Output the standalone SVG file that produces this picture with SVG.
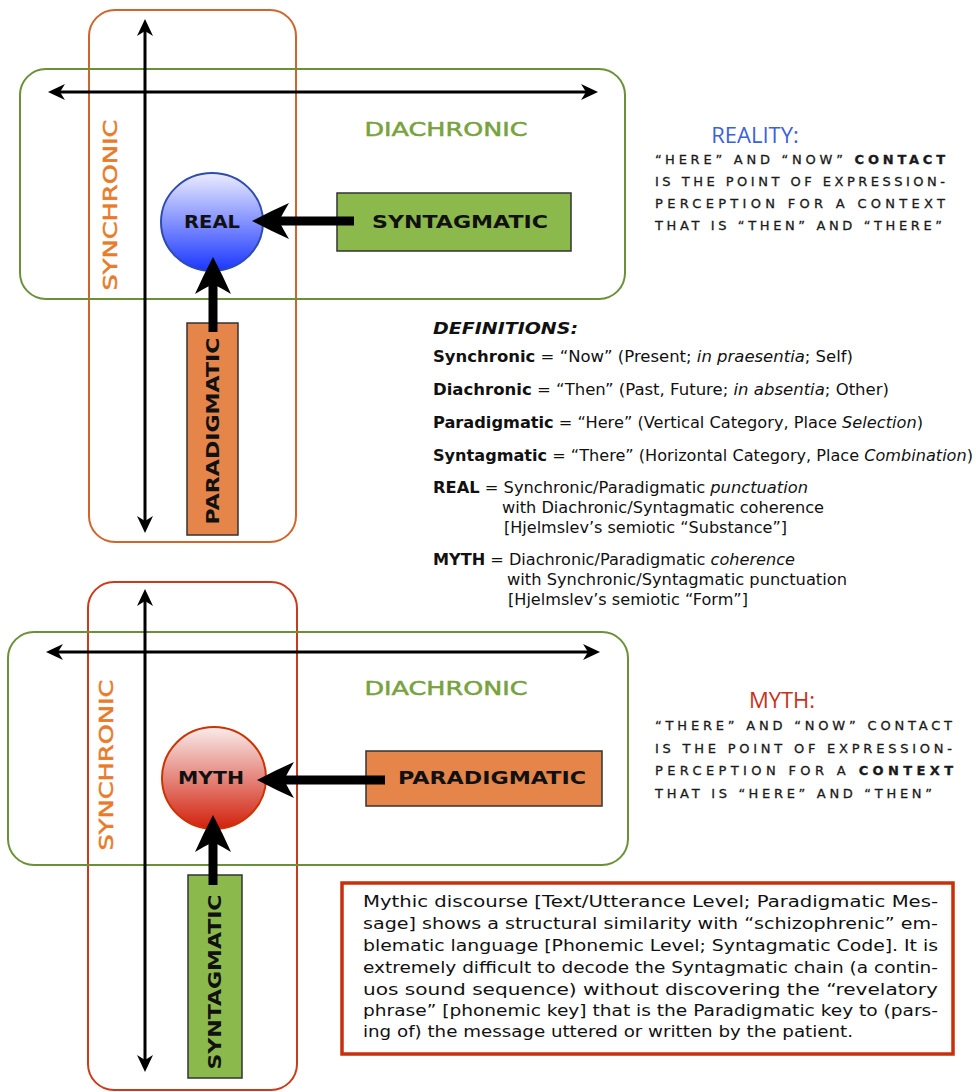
<svg xmlns="http://www.w3.org/2000/svg" width="976" height="1092" viewBox="0 0 976 1092">
<defs>
  <linearGradient id="gBlue" x1="0" y1="0" x2="0" y2="1">
    <stop offset="0" stop-color="#ececff"/>
    <stop offset="1" stop-color="#1a36ff"/>
  </linearGradient>
  <linearGradient id="gRed" x1="0" y1="0" x2="0" y2="1">
    <stop offset="0" stop-color="#f8ecec"/>
    <stop offset="1" stop-color="#d2200c"/>
  </linearGradient>
  <marker id="thin" markerUnits="userSpaceOnUse" markerWidth="20" markerHeight="20" refX="6" refY="10" orient="auto-start-reverse" overflow="visible">
    <path d="M18,10 L1,2 L6,10 L1,18 Z" fill="#000"/>
  </marker>
  <marker id="thick" markerUnits="userSpaceOnUse" markerWidth="40" markerHeight="40" refX="10" refY="18" orient="auto" overflow="visible">
    <path d="M37,18 Q18,8 0,0 Q6,10 10,18 Q6,26 0,36 Q18,28 37,18 Z" fill="#000"/>
  </marker>
  <style>
    .sync{fill:none;stroke:#d0642a;stroke-width:2}
    .sync2{fill:none;stroke:#cc3a1c;stroke-width:2}
    .diac{fill:none;stroke:#6b9038;stroke-width:2}
    .axis{stroke:#000;stroke-width:3;fill:none}
    .fat{stroke:#000;stroke-width:9;fill:none}
    .lbl{font-family:"DejaVu Sans",Verdana,sans-serif;font-weight:bold;font-size:18px;fill:#111}
    .synctxt{font-family:"DejaVu Sans",Verdana,sans-serif;font-size:19px;fill:#e87a2a;stroke:#e87a2a;stroke-width:0.5}
    .diactxt{font-family:"DejaVu Sans",Verdana,sans-serif;font-size:19px;fill:#78a23e;stroke:#78a23e;stroke-width:0.5}
    .green{fill:#8cb94c;stroke:#333;stroke-width:1.5}
    .orange{fill:#e5854a;stroke:#333;stroke-width:1.5}
    .head{font-family:"Open Sans","DejaVu Sans",sans-serif;font-size:22px}
    .caps{font-family:"DejaVu Sans",Verdana,sans-serif;font-size:13px;fill:#1a1a1a;stroke:#1a1a1a;stroke-width:0.3}
    .def{font-family:"DejaVu Sans",Verdana,sans-serif;font-size:15.5px;fill:#111}
    .para{font-family:"DejaVu Sans",Verdana,sans-serif;font-size:16px;fill:#111}
    .b{font-weight:bold}
    .i{font-style:italic}
  </style>
</defs>
<rect width="976" height="1092" fill="#fff"/>

<!-- TOP DIAGRAM -->
<g id="synchronic-top">
  <rect class="sync" x="89" y="10" width="207" height="532" rx="26"/>
  <text class="synctxt" transform="translate(117,205) rotate(-90)" text-anchor="middle" textLength="171" lengthAdjust="spacingAndGlyphs">SYNCHRONIC</text>
</g>
<g id="diachronic-top">
  <rect class="diac" x="20" y="69" width="605" height="230" rx="26"/>
  <text class="diactxt" x="446" y="136" text-anchor="middle" textLength="163" lengthAdjust="spacingAndGlyphs">DIACHRONIC</text>
</g>
<g id="real">
  <ellipse cx="212" cy="222" rx="51" ry="49" fill="url(#gBlue)" stroke="#2e4cb0" stroke-width="2"/>
  <text class="lbl" x="212" y="228" text-anchor="middle" textLength="56" lengthAdjust="spacingAndGlyphs">REAL</text>
</g>
<g id="syntagmatic-top">
  <rect class="green" x="337" y="193" width="234" height="58"/>
  <text class="lbl" x="460" y="228" text-anchor="middle" textLength="176" lengthAdjust="spacingAndGlyphs">SYNTAGMATIC</text>
</g>
<g id="paradigmatic-top">
  <rect class="orange" x="187" y="323" width="51" height="212"/>
  <text class="lbl" transform="translate(219,431) rotate(-90)" text-anchor="middle" textLength="187" lengthAdjust="spacingAndGlyphs">PARADIGMATIC</text>
</g>

<g id="reality-text">
  <text class="head" x="755" y="143" text-anchor="middle" fill="#3b62d9">REALITY:</text>
  <text class="caps" x="655" y="164" textLength="290">“HERE” AND “NOW” <tspan class="b">CONTACT</tspan></text>
  <text class="caps" x="655" y="186" textLength="290">IS THE POINT OF EXPRESSION-</text>
  <text class="caps" x="655" y="208" textLength="290">PERCEPTION  FOR A CONTEXT</text>
  <text class="caps" x="655" y="230" textLength="287">THAT IS “THEN” AND “THERE”</text>
</g>

<g id="definitions">
  <text class="def b i" x="433" y="334" font-size="17" textLength="145" lengthAdjust="spacingAndGlyphs">DEFINITIONS:</text>
  <text class="def" x="433" y="362" textLength="420" lengthAdjust="spacingAndGlyphs"><tspan class="b">Synchronic</tspan> = “Now” (Present; <tspan class="i">in praesentia</tspan>; Self)</text>
  <text class="def" x="433" y="395" textLength="456" lengthAdjust="spacingAndGlyphs"><tspan class="b">Diachronic</tspan> = “Then” (Past, Future; <tspan class="i">in absentia</tspan>; Other)</text>
  <text class="def" x="433" y="428" textLength="490" lengthAdjust="spacingAndGlyphs"><tspan class="b">Paradigmatic</tspan> = “Here” (Vertical Category, Place <tspan class="i">Selection</tspan>)</text>
  <text class="def" x="433" y="461" textLength="540" lengthAdjust="spacingAndGlyphs"><tspan class="b">Syntagmatic</tspan> = “There” (Horizontal Category, Place <tspan class="i">Combination</tspan>)</text>
  <text class="def" x="433" y="493" textLength="375" lengthAdjust="spacingAndGlyphs"><tspan class="b">REAL</tspan> = Synchronic/Paradigmatic <tspan class="i">punctuation</tspan></text>
  <text class="def" x="502" y="513" textLength="322" lengthAdjust="spacingAndGlyphs">with Diachronic/Syntagmatic coherence</text>
  <text class="def" x="504" y="533" textLength="283" lengthAdjust="spacingAndGlyphs">[Hjelmslev’s semiotic “Substance”]</text>
  <text class="def" x="433" y="565" textLength="362" lengthAdjust="spacingAndGlyphs"><tspan class="b">MYTH</tspan> = Diachronic/Paradigmatic <tspan class="i">coherence</tspan></text>
  <text class="def" x="507" y="585" textLength="340" lengthAdjust="spacingAndGlyphs">with Synchronic/Syntagmatic punctuation</text>
  <text class="def" x="508" y="605" textLength="240" lengthAdjust="spacingAndGlyphs">[Hjelmslev’s semiotic “Form”]</text>
</g>

<!-- BOTTOM DIAGRAM -->
<g id="synchronic-bottom">
  <rect class="sync2" x="88" y="582" width="209" height="508" rx="26"/>
  <text class="synctxt" transform="translate(113,765) rotate(-90)" text-anchor="middle" textLength="171" lengthAdjust="spacingAndGlyphs">SYNCHRONIC</text>
</g>
<g id="diachronic-bottom">
  <rect class="diac" x="8" y="632" width="620" height="233" rx="26"/>
  <text class="diactxt" x="446" y="695" text-anchor="middle" textLength="163" lengthAdjust="spacingAndGlyphs">DIACHRONIC</text>
</g>
<g id="myth">
  <ellipse cx="214" cy="778" rx="52" ry="51" fill="url(#gRed)" stroke="#cc3300" stroke-width="2"/>
  <text class="lbl" x="211" y="784" text-anchor="middle" textLength="66" lengthAdjust="spacingAndGlyphs">MYTH</text>
</g>
<g id="paradigmatic-bottom">
  <rect class="orange" x="366" y="751" width="236" height="55"/>
  <text class="lbl" x="492" y="784" text-anchor="middle" textLength="188" lengthAdjust="spacingAndGlyphs">PARADIGMATIC</text>
</g>
<g id="syntagmatic-bottom">
  <rect class="green" x="188" y="875" width="54" height="203"/>
  <text class="lbl" transform="translate(221,982) rotate(-90)" text-anchor="middle" textLength="175" lengthAdjust="spacingAndGlyphs">SYNTAGMATIC</text>
</g>

<g id="myth-text">
  <text class="head" x="782" y="708" text-anchor="middle" fill="#c8321a">MYTH:</text>
  <text class="caps" x="655" y="730" textLength="297">“THERE” AND “NOW” CONTACT</text>
  <text class="caps" x="655" y="753" textLength="297">IS THE POINT OF EXPRESSION-</text>
  <text class="caps" x="655" y="775" textLength="298">PERCEPTION  FOR A <tspan class="b">CONTEXT</tspan></text>
  <text class="caps" x="655" y="798" textLength="277">THAT IS “HERE” AND “THEN”</text>
</g>

<g id="note">
  <rect x="342" y="883" width="611" height="171" fill="#fff" stroke="#c8300c" stroke-width="3.5"/>
  <text class="para" x="363" y="907" textLength="575" lengthAdjust="spacingAndGlyphs">Mythic discourse [Text/Utterance Level; Paradigmatic Mes-</text>
  <text class="para" x="363" y="929" textLength="575" lengthAdjust="spacingAndGlyphs">sage] shows a structural similarity with “schizophrenic” em-</text>
  <text class="para" x="363" y="951" textLength="575" lengthAdjust="spacingAndGlyphs">blematic language [Phonemic Level; Syntagmatic Code]. It is</text>
  <text class="para" x="363" y="973" textLength="575" lengthAdjust="spacingAndGlyphs">extremely difficult to decode the Syntagmatic chain (a contin-</text>
  <text class="para" x="363" y="995" textLength="575" lengthAdjust="spacingAndGlyphs">uos sound sequence) without discovering the “revelatory</text>
  <text class="para" x="363" y="1016" textLength="575" lengthAdjust="spacingAndGlyphs">phrase” [phonemic key] that is the Paradigmatic key to (pars-</text>
  <text class="para" x="363" y="1037" textLength="490" lengthAdjust="spacingAndGlyphs">ing of) the message uttered or written by the patient.</text>
</g>

<g id="connectors">
  <line class="axis" x1="60" y1="92" x2="586" y2="92" marker-start="url(#thin)" marker-end="url(#thin)"/>
  <line class="axis" x1="145" y1="31" x2="145" y2="521" marker-start="url(#thin)" marker-end="url(#thin)"/>
  <line class="fat" x1="354" y1="221" x2="279" y2="221" marker-end="url(#thick)"/>
  <line class="fat" x1="213" y1="332" x2="213" y2="284" marker-end="url(#thick)"/>
  <line class="axis" x1="58" y1="652" x2="588" y2="652" marker-start="url(#thin)" marker-end="url(#thin)"/>
  <line class="axis" x1="145" y1="601" x2="145" y2="1060" marker-start="url(#thin)" marker-end="url(#thin)"/>
  <line class="fat" x1="385" y1="780" x2="284" y2="780" marker-end="url(#thick)"/>
  <line class="fat" x1="213" y1="885" x2="213" y2="842" marker-end="url(#thick)"/>
</g>
</svg>
